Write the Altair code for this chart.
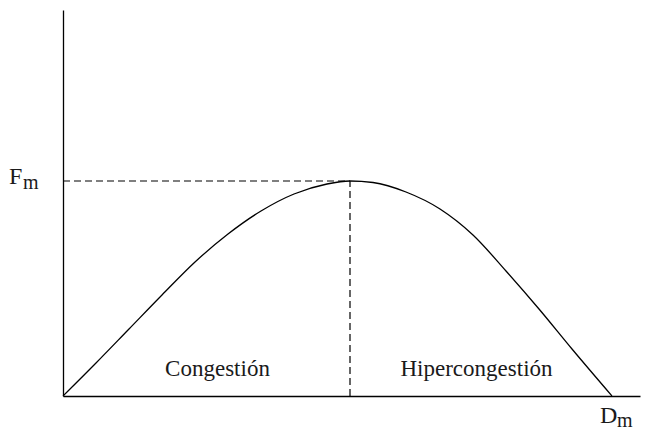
import altair as alt
import pandas as pd

# Curve (flow vs density), in plot units
curve_x = [0, 33, 66, 99, 132, 165, 198, 231, 264, 287, 310, 343, 377, 410, 443, 476, 509, 549]
curve_y = [0, 33, 67, 101, 134, 162, 185, 202, 212, 215, 213.5, 204, 187, 161, 125, 87, 47, 0]

peak_x = 287
peak_y = 215

# Region labels
region_labels = ["Congestión", "Hipercongestión"]
region_x = [154.5, 413.5]
region_y = [20, 20]

# Axis labels (main letter + subscript)
main_labels = ["F", "D"]
main_x = [-54, 537]
main_y = [212.5, -27]
sub_labels = ["m", "m"]
sub_x = [-40, 554]
sub_y = [207.5, -31]

X_MAX = 577
Y_MAX = 386

FONT = "Liberation Serif"

xs = alt.Scale(domain=[0, X_MAX], nice=False, zero=False)
ys = alt.Scale(domain=[0, Y_MAX], nice=False, zero=False)

curve_df = pd.DataFrame({"x": curve_x, "y": curve_y})

x_axis = alt.Axis(domain=True, ticks=False, labels=False, grid=False, title=None,
                  domainColor="black", domainWidth=1.3)
y_axis = alt.Axis(domain=True, ticks=False, labels=False, grid=False, title=None,
                  domainColor="black", domainWidth=1.3)

axes = alt.Chart(pd.DataFrame({"x": [0, X_MAX], "y": [0, Y_MAX]})).mark_point(opacity=0).encode(
    x=alt.X("x:Q", scale=xs, axis=x_axis),
    y=alt.Y("y:Q", scale=ys, axis=y_axis),
)

line = alt.Chart(curve_df).mark_line(color="black", strokeWidth=1.3, interpolate="monotone").encode(
    x=alt.X("x:Q", scale=xs),
    y=alt.Y("y:Q", scale=ys),
)

hdash = alt.Chart(pd.DataFrame({"x": [0], "x2": [peak_x], "y": [peak_y]})).mark_rule(
    color="black", strokeWidth=1.2, strokeDash=[7, 4]
).encode(x=alt.X("x:Q", scale=xs), x2="x2:Q", y=alt.Y("y:Q", scale=ys))

vdash = alt.Chart(pd.DataFrame({"x": [peak_x], "y": [0], "y2": [peak_y]})).mark_rule(
    color="black", strokeWidth=1.2, strokeDash=[7, 4]
).encode(x=alt.X("x:Q", scale=xs), y=alt.Y("y:Q", scale=ys), y2="y2:Q")

regions = alt.Chart(pd.DataFrame({"t": region_labels, "x": region_x, "y": region_y})).mark_text(
    font=FONT, fontSize=23, color="#1a1a1a", align="center", baseline="alphabetic"
).encode(x=alt.X("x:Q", scale=xs), y=alt.Y("y:Q", scale=ys), text="t:N")

mains = alt.Chart(pd.DataFrame({"t": main_labels, "x": main_x, "y": main_y})).mark_text(
    font=FONT, fontSize=24, color="#1a1a1a", align="left", baseline="alphabetic"
).encode(x=alt.X("x:Q", scale=xs), y=alt.Y("y:Q", scale=ys), text="t:N")

subs = alt.Chart(pd.DataFrame({"t": sub_labels, "x": sub_x, "y": sub_y})).mark_text(
    font=FONT, fontSize=20, color="#1a1a1a", align="left", baseline="alphabetic"
).encode(x=alt.X("x:Q", scale=xs), y=alt.Y("y:Q", scale=ys), text="t:N")

chart = alt.layer(axes, line, hdash, vdash, regions, mains, subs).properties(
    width=X_MAX, height=Y_MAX,
    padding={"left": 55, "top": 2, "right": 5, "bottom": 37},
    autosize=alt.AutoSizeParams(type="none"),
    background="white",
).configure_view(stroke=None)

chart.save("out.html", embed_options={"renderer": "svg", "actions": False})
